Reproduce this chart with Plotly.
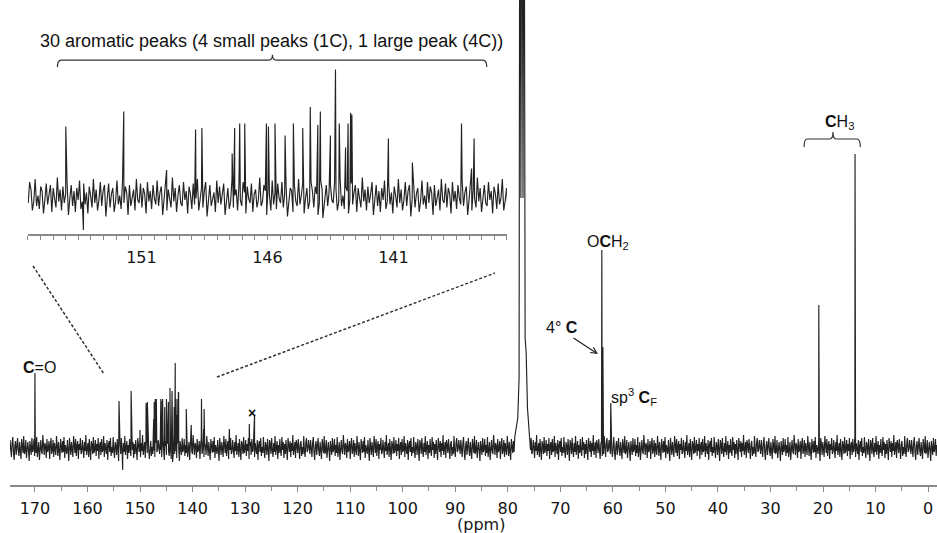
import numpy as np
import plotly.graph_objects as go

# ---------------- data ----------------
# stick peaks of the 13C spectrum: chemical shift (ppm) and intensity (baseline = 0)
PEAK_PPM = [170.0,
            154.0, 153.3, 151.7, 150.0, 148.85, 148.6, 147.4, 147.3, 147.1, 146.9,
            146.04, 145.96, 145.7, 145.3, 144.97, 144.6, 144.3, 144.0, 143.9, 143.8,
            143.5, 143.3, 143.15, 142.9, 142.8, 142.7, 142.65, 141.2, 140.25,
            138.3, 137.9, 137.8,
            133.0, 129.2, 128.2,
            62.1, 61.9, 60.4,
            20.8, 13.9]
PEAK_H = [75,
          47, -22, 57, 18, 45, 46, 29, 46, 49, 49,
          49, 47, 49, 41, 49, 46, 60, 48, 57, -14,
          41, 85, 49, 33, 49, 56, 55, 39, 23,
          49, 19, 39,
          19, 24, 33,
          198, 101, 45,
          143, 294]

# CDCl3 solvent triplet profile (runs off the top of the plot)
SOLVENT_PPM = [78.5, 78.1, 77.85, 77.7, 77.5, 77.3, 77.1, 76.9, 76.7, 76.5, 76.25, 76.0]
SOLVENT_H = [16, 30, 70, 700, 250, 700, 250, 700, 110, 95, 40, 18]

# baseline noise values (estimated)
NOISE = [3, -6, 8, -2, -9, 5, 11, -4, -12, 2, 7, -7, 4, 10, -3, -8, 6, -1, -11, 9,
         1, -5, 12, -6, -3, 8, -10, 4, 6, -2, -13, 7, 2, -7, 10, -4, -1, 9, -8, 3,
         -5, 11, -9, 1, 6, -12, 4, 8, -3, -6, 13, -2, -7, 5, 2, -10, 9, -4, -1, 7,
         -11, 3, 10, -6, -2, 8, -9, 5, 1, -7, 12, -3, -8, 6, -1, -12, 9, 2, -5, 7,
         -4, 11, -10, 3, 0, -6, 8, -2, -13, 10, 4, -7, 6, -3, -9, 12, -1, -5, 9, -8,
         2, 7, -11, 4, -2, 10, -6, -4, 8, 1, -10, 6, -3, 13, -7, -1, 5, -9, 9, -2,
         -12, 7, 3, -6, 11, -5, -1, 8, -8, 4, -3, 10, -11, 2, 6, -7, 9, -4, -2, 12,
         -9, 5, -1, -6, 8, -12, 3, 7, -4, 10, -8, 1, -5, 11, -3, -10, 6, 2, -7, 9,
         -1, -13, 8, 4, -6, 10, -2, -9, 5, -4, 12, -7, 1, 7, -11, 3, -5, 9, -3, -8,
         11, -2, 6, -10, 4, -6, 8, -1, -12, 10, 2, -4, 7, -9, 5, -3, 13, -7, -1, 6,
         -10, 8, 3, -5, 9, -2, -11, 4, 7, -8, 1, -6, 12, -3, -9, 5, 10, -4, -2, 8]

MAIN_TICKS = [170, 160, 150, 140, 130, 120, 110, 100, 90, 80, 70, 60, 50, 40, 30, 20, 10, 0]
INSET_TICKS = [151, 146, 141]

# ---------------- build traces ----------------
def build(grid, noise, lo, hi, solvent=True):
    xs = list(grid)
    ys = [noise[i % len(noise)] for i in range(len(grid))]
    if solvent:
        keep = [(x, y) for x, y in zip(xs, ys) if not (75.9 < x < 78.6)]
        xs = [k[0] for k in keep] + SOLVENT_PPM
        ys = [k[1] for k in keep] + SOLVENT_H
    for p, h in zip(PEAK_PPM, PEAK_H):
        if lo <= p <= hi:
            xs.append(p)
            ys.append(h)
    order = np.argsort(xs)[::-1]
    return np.array(xs)[order], np.array(ys)[order]

main_grid = np.round(np.arange(175.0, -1.8, -0.13), 3)
mx, my = build(main_grid, NOISE, -2, 176)

inset_grid = np.round(np.arange(155.6, 136.4, -0.055), 3)
ix, iy = build(inset_grid, NOISE[::-1], 136.4, 155.6, solvent=False)

LINE = "#222222"
fig = go.Figure()
fig.add_trace(go.Scatter(x=mx, y=my, mode="lines", line=dict(color=LINE, width=1.15),
                         xaxis="x", yaxis="y", hoverinfo="skip", showlegend=False))
fig.add_trace(go.Scatter(x=ix, y=iy, mode="lines", line=dict(color=LINE, width=1.15),
                         xaxis="x2", yaxis="y2", hoverinfo="skip", showlegend=False))

TICKFONT = dict(family="DejaVu Sans", size=16, color="#151515")
AXC = "#8a8a8a"

fig.update_layout(
    width=937, height=533,
    margin=dict(l=10, r=0, t=0, b=48),
    paper_bgcolor="white", plot_bgcolor="white",
    xaxis=dict(range=[174.75, -1.7], showgrid=False, zeroline=False,
               showline=True, linecolor=AXC, linewidth=1.5,
               ticks="outside", ticklen=5, tickcolor=AXC, tickwidth=1.2,
               tickvals=MAIN_TICKS, ticktext=[str(t) for t in MAIN_TICKS],
               tickfont=TICKFONT, ticklabelstandoff=3,
               minor=dict(dtick=5, ticks="outside", ticklen=4, tickcolor=AXC, tickwidth=1.2)),
    yaxis=dict(range=[-37, 448], visible=False, fixedrange=True),
    xaxis2=dict(domain=[0.0194, 0.536], anchor="y2", range=[155.5, 136.5],
                showgrid=False, zeroline=False, showline=True, linecolor=AXC, linewidth=1.5,
                ticks="outside", ticklen=4, tickcolor=AXC, tickwidth=1.2,
                tickvals=INSET_TICKS, ticktext=[str(t) for t in INSET_TICKS],
                tickfont=TICKFONT, ticklabelstandoff=4,
                minor=dict(tick0=141, dtick=0.5, ticks="outside", ticklen=4,
                           tickcolor=AXC, tickwidth=1.2)),
    yaxis2=dict(domain=[0.5175, 0.876], anchor="x2", range=[-24.7, 91.3], visible=False),
)

AFONT = dict(family="Liberation Sans, Arial", size=16, color="#111")
ann = [
    dict(x=169.23, y=81, xref="x", yref="y", text="<b>C</b>=O", showarrow=False, font=AFONT),
    dict(x=128.7, y=35, xref="x", yref="y", text="<b>×</b>", showarrow=False,
         font=dict(family="Liberation Sans, Arial", size=14, color="#111")),
    dict(x=60.9, y=206, xref="x", yref="y", text="O<b>C</b>H<sub>2</sub>", showarrow=False, font=AFONT),
    dict(x=69.7, y=121, xref="x", yref="y", text="4° <b>C</b>", showarrow=False, font=AFONT),
    dict(x=62.83, y=94, xref="x", yref="y", ax=67.78, ay=111, axref="x", ayref="y",
         text="", showarrow=True, arrowhead=5, arrowsize=1, arrowwidth=1.2, arrowcolor="#222"),
    dict(x=55.97, y=51, xref="x", yref="y", text="sp<sup>3</sup> <b>C</b><sub>F</sub>",
         showarrow=False, font=AFONT),
    dict(x=16.95, y=326, xref="x", yref="y", text="<b>C</b>H<sub>3</sub>", showarrow=False, font=AFONT),
    dict(x=0.2826, y=0.9155, xref="paper", yref="paper", xanchor="center", yanchor="middle",
         text="30 aromatic peaks (4 small peaks (1C), 1 large peak (4C))",
         showarrow=False, font=dict(family="Liberation Sans, Arial", size=18, color="#111")),
    dict(x=(481 - 10) / 927, y=(485 - 524) / 485, xref="paper", yref="paper",
         xanchor="center", yanchor="middle",
         text="(ppm)", showarrow=False, font=TICKFONT),
]
fig.update_layout(annotations=ann)

def brace(x0, x1, xc, yt, ye, ytip, c):
    return (f"M {x0},{ye} Q {x0},{yt} {x0 - c},{yt} L {xc + c},{yt} "
            f"Q {xc},{yt} {xc},{ytip} Q {xc},{yt} {xc - c},{yt} "
            f"L {x1 + c},{yt} Q {x1},{yt} {x1},{ye}")

shapes = [
    dict(type="path", xref="x2", yref="paper",
         path=brace(154.33, 137.3, 145.8, 0.876, 0.862, 0.887, 0.15),
         line=dict(color="#333", width=1.2)),
    dict(type="path", xref="x", yref="y",
         path=brace(23.6, 12.9, 18.1, 309, 301, 316, 0.6),
         line=dict(color="#333", width=1.2)),
    dict(type="line", xref="x", yref="y", x0=170.37, y0=182, x1=156.86, y1=74,
         line=dict(color="#333", width=1.5, dash="3px,2px")),
    dict(type="line", xref="x", yref="y", x0=135.35, y0=71, x1=82.43, y1=175,
         line=dict(color="#333", width=1.5, dash="3px,2px")),
]
fig.update_layout(shapes=shapes)

fig.write_html("out.html", config={"displayModeBar": False},
               post_script="document.body.style.margin='0px';")
